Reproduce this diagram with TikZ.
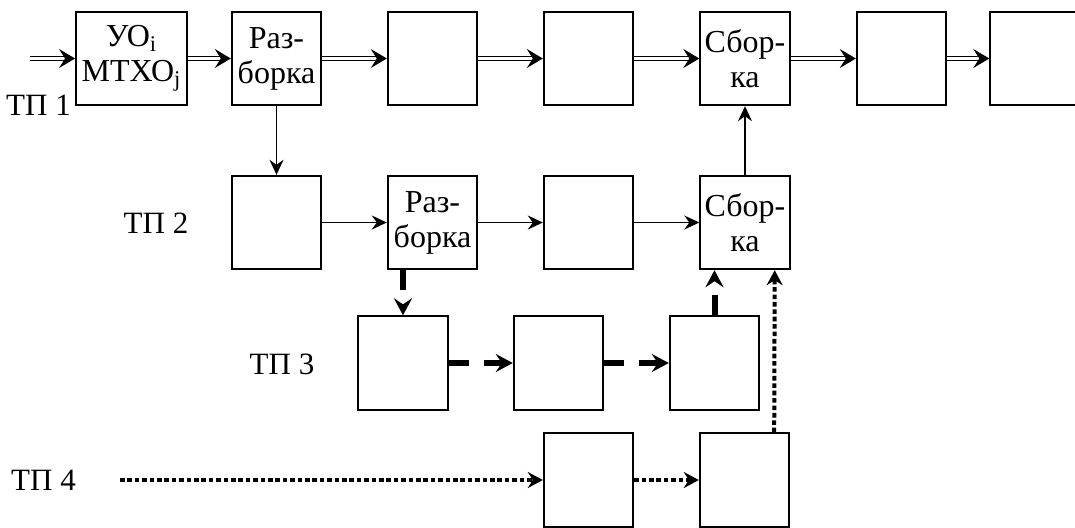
\documentclass[tikz,border=0pt]{standalone}
\usepackage{fontspec}
\setmainfont{Liberation Serif}
\usetikzlibrary{arrows.meta}

\begin{document}
\begin{tikzpicture}[x=0.5pt,y=-0.5pt,
  box/.style={draw,line width=0.95pt,minimum width=44.75pt,minimum height=46.75pt,
    inner sep=0pt,align=center,font=\fontsize{16}{17.5}\selectfont},
  lbl/.style={anchor=base,font=\fontsize{15.5}{17.5}\selectfont},
  dbl/.style={double,double distance=1.7pt,line width=0.6pt,
    -{Stealth[length=8pt,width=9.5pt,inset=3pt]}},
  flow/.style={line width=0.8pt,-{Stealth[length=7.5pt,width=7pt,inset=2.5pt]}},
  dasharrow/.style={line width=3pt,dash pattern=on 10pt off 7.5pt,
    -{Stealth[length=8.5pt,width=9pt,inset=3pt]}},
  dotarrow/.style={line width=2pt,dash pattern=on 2.3pt off 1.4pt,
    -{Stealth[length=7.5pt,width=8pt,inset=2.5pt]}}]

  \useasboundingbox (0,0) rectangle (1075,527);

  \node[box,minimum width=55.5pt] (a1) at (131.5,58.5) {УО\textsubscript{i}\\МТХО\textsubscript{j}};
  \node[box] (a2) at (276.5,58.5) {Раз-\\борка};
  \node[box] (a3) at (432.5,58.5) {};
  \node[box] (a4) at (588.5,58.5) {};
  \node[box] (a5) at (745,58.5) {Сбор-\\ка};
  \node[box] (a6) at (901.5,58.5) {};
  \node[box] (a7) at (1035,58.5) {};

  \node[box] (b1) at (276.5,222.5) {};
  \node[box] (b2) at (432.5,222.5) {Раз-\\борка};
  \node[box] (b3) at (588.5,222.5) {};
  \node[box] (b4) at (745,222.5) {Сбор-\\ка};

  \node[box] (c1) at (403,363) {};
  \node[box] (c2) at (558.5,363) {};
  \node[box] (c3) at (714.5,363) {};

  \node[box] (d1) at (588.5,480) {};
  \node[box] (d2) at (744.5,480) {};

  \node[lbl] (tp1) at (38.5,115) {ТП 1};
  \node[lbl] (tp2) at (156,233) {ТП 2};
  \node[lbl] (tp3) at (282,374) {ТП 3};
  \node[lbl] (tp4) at (43.5,490) {ТП 4};

  \coordinate (in) at (30,58.5);
  \coordinate (s4) at (120,480);

  \draw[dbl] (in) -- (a1.west);
  \draw[dbl] (a1.east) -- (a2.west);
  \draw[dbl] (a2.east) -- (a3.west);
  \draw[dbl] (a3.east) -- (a4.west);
  \draw[dbl] (a4.east) -- (a5.west);
  \draw[dbl] (a5.east) -- (a6.west);
  \draw[dbl] (a6.east) -- (a7.west);

  \draw[flow] (a2.south) -- (b1.north);
  \draw[flow] (b1.east) -- (b2.west);
  \draw[flow] (b2.east) -- (b3.west);
  \draw[flow] (b3.east) -- (b4.west);
  \draw[flow] (b4.north) -- (a5.south);

  \draw[dasharrow] (c1.north |- b2.south) -- (c1.north);
  \draw[dasharrow] (c1.east) -- (c2.west);
  \draw[dasharrow] (c2.east) -- (c3.west);
  \draw[dasharrow] (c3.north) -- (c3.north |- b4.south);

  \draw[dotarrow] (s4) -- (d1.west);
  \draw[dotarrow] (d1.east) -- (d2.west);
  \draw[dotarrow] ([xshift=-8pt]d2.north east) -- ([xshift=-8pt]b4.south east);

\end{tikzpicture}
\end{document}
